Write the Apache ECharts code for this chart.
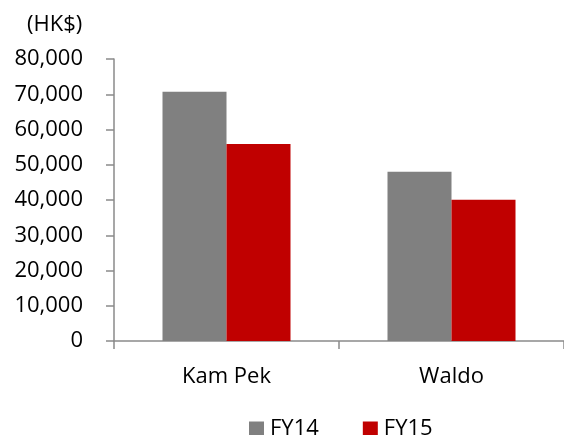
<!DOCTYPE html>
<html>
<head>
<meta charset="utf-8">
<script src="https://cdn.jsdelivr.net/npm/echarts@6/dist/echarts.min.js"></script>
<style>
  html, body { margin: 0; padding: 0; background: #ffffff; }
  #chart { width: 564px; height: 435px; }
</style>
</head>
<body>
<div id="chart"></div>
<script>
// Project revenue per property, HK$
const categories = ['Kam Pek', 'Waldo'];
const seriesNames = ['FY14', 'FY15'];
const fy14Values = [70700, 48000];
const fy15Values = [55900, 40100];
const yTicks = { min: 0, max: 80000, interval: 10000 };
const unitLabel = '(HK$)';

const FONT = '"Open Sans", "Noto Sans", sans-serif';
const FONT_SIZE = 22;
const AXIS_GREY = '#8a8a8a';

const chart = echarts.init(document.getElementById('chart'), null, { renderer: 'canvas' });

chart.setOption({
  animation: false,
  backgroundColor: '#ffffff',
  title: {
    text: unitLabel,
    left: 22,
    top: 9,
    textStyle: { fontFamily: FONT, fontSize: FONT_SIZE, fontWeight: 'normal', color: '#000000' }
  },
  legend: {
    data: seriesNames,
    left: 244,
    top: 413,
    itemWidth: 15,
    itemHeight: 15,
    itemGap: 44,
    icon: 'rect',
    textStyle: { fontFamily: FONT, fontSize: FONT_SIZE, color: '#000000', padding: [0, 0, 0, 1] }
  },
  grid: { left: 114, right: -1, top: 59, bottom: 94, containLabel: false },
  xAxis: {
    type: 'category',
    data: categories,
    boundaryGap: true,
    axisLine: { lineStyle: { color: AXIS_GREY, width: 1.5 } },
    axisTick: { show: true, length: 8, alignWithLabel: false, lineStyle: { color: AXIS_GREY, width: 1.5 } },
    axisLabel: { fontFamily: FONT, fontSize: FONT_SIZE, color: '#000000', margin: 25 }
  },
  yAxis: {
    type: 'value',
    min: yTicks.min,
    max: yTicks.max,
    interval: yTicks.interval,
    splitLine: { show: false },
    axisLine: { show: true, lineStyle: { color: AXIS_GREY, width: 1.5 } },
    axisTick: { show: true, length: 8, lineStyle: { color: AXIS_GREY, width: 1.5 } },
    axisLabel: {
      fontFamily: FONT, fontSize: FONT_SIZE, color: '#000000', margin: 31,
      formatter: v => v.toLocaleString('en-US')
    }
  },
  series: [
    {
      name: seriesNames[0],
      type: 'bar',
      data: fy14Values,
      barWidth: 64,
      barGap: '0%',
      itemStyle: { color: '#808080' }
    },
    {
      name: seriesNames[1],
      type: 'bar',
      data: fy15Values,
      barWidth: 64,
      barGap: '0%',
      itemStyle: { color: '#c00000' }
    }
  ]
});
</script>
</body>
</html>
